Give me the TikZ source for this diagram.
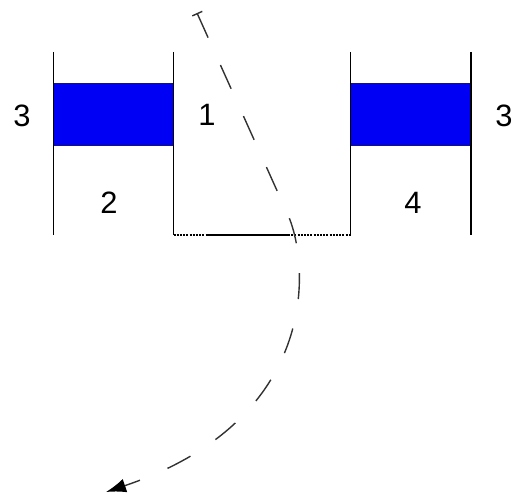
\documentclass[tikz,border=0pt]{standalone}
\usepackage{fontspec}
\setmainfont{Liberation Sans}
\usetikzlibrary{arrows.meta}
\definecolor{bandblue}{RGB}{0,0,245}
\definecolor{bandedge}{RGB}{20,20,120}
\definecolor{pathgray}{RGB}{50,50,50}
\begin{document}
\begin{tikzpicture}[x=1bp,y=-1bp,
  wall/.style={line width=1.5bp,black},
  band/.style={fill=bandblue,draw=bandedge,line width=0.8bp},
  lbl/.style={font=\fontsize{31}{31}\selectfont,inner sep=0pt,anchor=center},
  flow/.style={pathgray,line width=1.4bp,dash pattern=on 26bp off 30bp,
    arrows={Bar[width=11bp,line width=1.4bp]-Latex[length=20bp,width=14bp,fill=black,color=black]}}]
\useasboundingbox (0,0) rectangle (517,500);
% blue bands
\fill[band] (53.5,83) rectangle (173.5,145);
\fill[band] (350.5,83) rectangle (471,145);
% walls
\coordinate (lwt) at (53.5,52);  \coordinate (lwb) at (53.5,235);
\coordinate (ilt) at (173.5,52); \coordinate (ilb) at (173.5,235);
\coordinate (irt) at (350.5,52); \coordinate (irb) at (350.5,235);
\coordinate (rwt) at (471,52);   \coordinate (rwb) at (471,235);
\draw[wall] (lwt) -- (lwb);
\draw[wall] (ilt) -- (ilb);
\draw[wall] (irt) -- (irb);
\draw[wall] (rwt) -- (rwb);
% floor
\coordinate (fa) at (208,235);
\coordinate (fb) at (288,235);
\draw[line width=1.1bp,dash pattern=on 2bp off 1.2bp] (ilb) -- (fa);
\draw[line width=1.4bp] (fa) -- (fb);
\draw[line width=1.1bp,dash pattern=on 2bp off 1.2bp] (fb) -- (irb);
% labels
\node[lbl] (l3a) at (22,116) {3};
\node[lbl] (l1) at (207,115) {1};
\node[lbl] (l3b) at (504,116) {3};
\node[lbl] (l2) at (109,203) {2};
\node[lbl] (l4) at (413,203) {4};
% flow path
\coordinate (fs) at (197,13);
\coordinate (fm) at (288,215);
\coordinate (fe) at (106,492);
\draw[flow] (fs) -- (fm) .. controls (310,265) and (320,420) .. (fe);
\end{tikzpicture}
\end{document}
